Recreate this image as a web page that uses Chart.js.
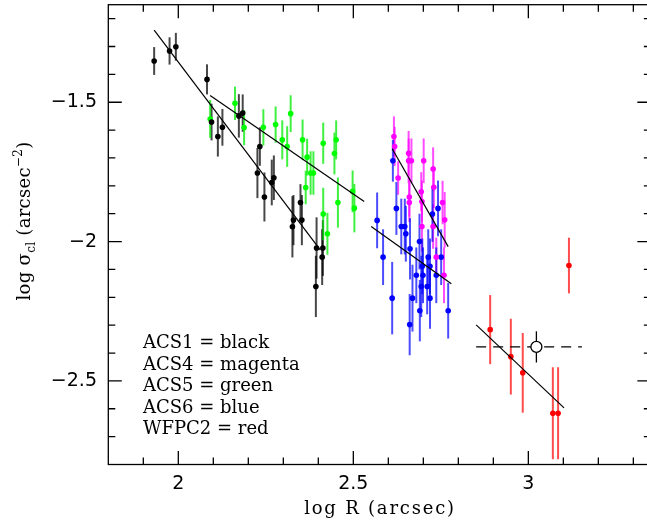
<!DOCTYPE html>
<html>
<head>
<meta charset="utf-8">
<script src="https://cdn.jsdelivr.net/npm/chart.js@4.4.1/dist/chart.umd.min.js"></script>
<style>
  html, body { margin: 0; padding: 0; background: #fff; overflow: hidden; }
  #plot { display: block; }
</style>
</head>
<body>
<canvas id="plot" width="647" height="524"></canvas>
<script>
// ACS1 (black)
const acs1X = [1.931, 1.975, 1.993, 2.082, 2.095, 2.113, 2.126, 2.173, 2.184, 2.226, 2.233, 2.246, 2.267, 2.273, 2.326, 2.329, 2.349, 2.353, 2.395, 2.413, 2.411, 2.393];
const acs1Y = [-1.352, -1.316, -1.301, -1.418, -1.571, -1.623, -1.590, -1.549, -1.539, -1.754, -1.659, -1.840, -1.788, -1.771, -1.947, -1.923, -1.860, -1.923, -2.023, -2.023, -2.056, -2.161];
const acs1Err = [0.05, 0.049, 0.05, 0.054, 0.066, 0.072, 0.066, 0.078, 0.067, 0.09, 0.069, 0.088, 0.082, 0.08, 0.11, 0.09, 0.066, 0.09, 0.11, 0.1, 0.1, 0.11];

// ACS4 (magenta)
const acs4X = [2.616, 2.618, 2.628, 2.658, 2.658, 2.666, 2.660, 2.660, 2.694, 2.696, 2.701, 2.696, 2.728, 2.730, 2.728, 2.737, 2.755, 2.761, 2.759];
const acs4Y = [-1.623, -1.659, -1.772, -1.683, -1.710, -1.710, -1.840, -1.860, -1.821, -1.856, -1.710, -1.946, -1.740, -1.805, -1.946, -2.056, -1.860, -1.922, -2.121];
const acs4Err = [0.072, 0.07, 0.06, 0.08, 0.08, 0.08, 0.07, 0.07, 0.07, 0.075, 0.08, 0.09, 0.078, 0.075, 0.08, 0.07, 0.078, 0.1, 0.1];

// ACS5 (green)
const acs5X = [2.091, 2.162, 2.188, 2.243, 2.278, 2.297, 2.311, 2.321, 2.355, 2.368, 2.364, 2.378, 2.386, 2.414, 2.446, 2.451, 2.456, 2.414, 2.426, 2.498, 2.503];
const acs5Y = [-1.560, -1.504, -1.591, -1.590, -1.580, -1.635, -1.659, -1.541, -1.635, -1.697, -1.806, -1.754, -1.754, -1.647, -1.684, -1.635, -1.860, -1.901, -1.972, -1.820, -1.880];
const acs5Err = [0.068, 0.06, 0.063, 0.065, 0.065, 0.07, 0.073, 0.066, 0.073, 0.066, 0.06, 0.078, 0.078, 0.074, 0.075, 0.07, 0.09, 0.094, 0.075, 0.075, 0.087];

// ACS6 (blue)
const acs6X = [2.613, 2.568, 2.585, 2.611, 2.623, 2.637, 2.647, 2.650, 2.662, 2.669, 2.661, 2.680, 2.689, 2.697, 2.694, 2.690, 2.699, 2.711, 2.714, 2.719, 2.719, 2.726, 2.742, 2.737, 2.751, 2.771];
const acs6Y = [-1.710, -1.924, -2.056, -2.203, -1.881, -1.946, -1.946, -1.972, -2.026, -2.203, -2.298, -2.121, -2.000, -2.089, -2.161, -2.248, -2.121, -2.161, -2.056, -2.203, -2.089, -1.901, -1.881, -2.121, -2.056, -2.248];
const acs6Err = [0.075, 0.1, 0.1, 0.13, 0.095, 0.1, 0.1, 0.1, 0.11, 0.12, 0.11, 0.1, 0.1, 0.1, 0.11, 0.11, 0.1, 0.1, 0.1, 0.11, 0.1, 0.1, 0.1, 0.1, 0.1, 0.1];

// WFPC2 (red)
const wfpcX = [2.891, 2.950, 2.984, 3.070, 3.085, 3.116];
const wfpcY = [-2.316, -2.413, -2.471, -2.616, -2.616, -2.086];
const wfpcErr = [0.124, 0.136, 0.143, 0.165, 0.165, 0.1];

// open circle with its dashed horizontal range
const ringX = [3.023];
const ringY = [-2.378];
const ringErr = [0.056];
const ringRangeX = [2.851, 3.153];

// fitted power laws, endpoints
const acs1FitX = [1.931, 2.406], acs1FitY = [-1.241, -2.031];
const acs5FitX = [2.091, 2.531], acs5FitY = [-1.476, -1.856];
const acs4FitX = [2.611, 2.771], acs4FitY = [-1.667, -2.018];
const acs6FitX = [2.551, 2.780], acs6FitY = [-1.946, -2.151];
const wfpcFitX = [2.851, 3.102], wfpcFitY = [-2.299, -2.597];

const xTicks = [2, 2.5, 3];
const yTicks = [-2.5, -2, -1.5];
const legendLines = ['ACS1 = black', 'ACS4 = magenta', 'ACS5 = green', 'ACS6 = blue', 'WFPC2 = red'];

// the box runs out to 3.35, a little past the visible edge
const xBoxMax = 3.35;

function pts(xs, ys) {
  return xs.map((x, i) => ({ x, y: ys[i] }));
}

const groups = [
  { xs: acs1X, ys: acs1Y, err: acs1Err, color: '#000000', bar: 'rgba(0,0,0,0.72)' },
  { xs: acs4X, ys: acs4Y, err: acs4Err, color: '#ff00ff', bar: 'rgba(255,0,255,0.7)' },
  { xs: acs5X, ys: acs5Y, err: acs5Err, color: '#00ff00', bar: 'rgba(0,235,0,0.75)' },
  { xs: acs6X, ys: acs6Y, err: acs6Err, color: '#0000ff', bar: 'rgba(0,0,255,0.7)' },
  { xs: wfpcX, ys: wfpcY, err: wfpcErr, color: '#ff0000', bar: 'rgba(255,0,0,0.7)' },
  { xs: ringX, ys: ringY, err: ringErr, color: '#000000', bar: '#000000', thin: true },
];

function fitLine(xs, ys, dash) {
  return {
    data: pts(xs, ys), showLine: true, pointRadius: 0,
    borderColor: '#000', borderWidth: 1.2, borderDash: dash || [],
  };
}

function dots(g) {
  return {
    data: pts(g.xs, g.ys), showLine: false, pointRadius: 2.8,
    pointBackgroundColor: g.color, pointBorderWidth: 0,
  };
}

const errorBars = {
  id: 'errorBars',
  beforeDatasetsDraw(chart) {
    const { ctx, scales: { x, y } } = chart;
    ctx.save();
    groups.forEach(g => {
      ctx.strokeStyle = g.bar;
      ctx.lineWidth = g.thin ? 1.3 : 2;
      g.xs.forEach((v, i) => {
        const px = x.getPixelForValue(v);
        ctx.beginPath();
        ctx.moveTo(px, y.getPixelForValue(g.ys[i] - g.err[i]));
        ctx.lineTo(px, y.getPixelForValue(g.ys[i] + g.err[i]));
        ctx.stroke();
      });
    });
    ctx.restore();
  }
};

// draws a row of text pieces (for sub/superscripts), centred on 0
function drawRuns(ctx, runs) {
  let w = 0;
  runs.forEach(r => {
    ctx.font = r.size + 'px "DejaVu Serif"';
    r.w = ctx.measureText(r.t).width;
    w += r.w;
  });
  let cx = -w / 2;
  runs.forEach(r => {
    ctx.font = r.size + 'px "DejaVu Serif"';
    ctx.fillText(r.t, cx, r.dy || 0);
    cx += r.w;
  });
}

const frame = {
  id: 'frame',
  afterDraw(chart) {
    const { ctx, chartArea: a, scales: { x, y } } = chart;
    const right = x.getPixelForValue(xBoxMax);
    ctx.save();
    ctx.strokeStyle = '#000';
    ctx.lineWidth = 1.3;
    ctx.strokeRect(a.left, a.top, right - a.left, a.bottom - a.top);
    ctx.beginPath();
    for (let k = 19; k <= 33; k++) {
      const px = x.getPixelForValue(k / 10);
      const len = k % 5 === 0 ? 13.5 : 7;
      ctx.moveTo(px, a.bottom); ctx.lineTo(px, a.bottom - len);
      ctx.moveTo(px, a.top); ctx.lineTo(px, a.top + len);
    }
    for (let k = -27; k <= -12; k++) {
      const py = y.getPixelForValue(k / 10);
      const len = k % 5 === 0 ? 13.5 : 7;
      ctx.moveTo(a.left, py); ctx.lineTo(a.left + len, py);
      ctx.moveTo(right, py); ctx.lineTo(right - len, py);
    }
    ctx.stroke();

    ctx.fillStyle = '#000';
    ctx.textBaseline = 'alphabetic';
    ctx.textAlign = 'left';

    // legend text
    ctx.font = '18px "DejaVu Serif"';
    legendLines.forEach((t, i) => ctx.fillText(t, 143, 348.3 + i * 21.4));

    // x title
    ctx.letterSpacing = '1.8px';
    ctx.save();
    ctx.translate(380, 514);
    drawRuns(ctx, [{ t: 'log R (arcsec)', size: 18 }]);
    ctx.restore();

    // y title
    ctx.letterSpacing = '0.3px';
    ctx.save();
    ctx.translate(30, 221);
    ctx.rotate(-Math.PI / 2);
    drawRuns(ctx, [
      { t: 'log σ', size: 18 },
      { t: 'cl', size: 12, dy: 5 },
      { t: ' (arcsec', size: 18 },
      { t: '−2', size: 12, dy: -8 },
      { t: ')', size: 18 },
    ]);
    ctx.restore();
    ctx.restore();
  }
};

const tickFont = { family: 'DejaVu Sans', size: 19 };

// no edge padding from tick labels, so the plot box keeps its size
function noEdgePad(s) {
  s.paddingTop = 0; s.paddingBottom = 0;
  s.paddingLeft = 0; s.paddingRight = 0;
}

new Chart(document.getElementById('plot'), {
  type: 'scatter',
  data: {
    datasets: [
      {
        data: pts(ringX, ringY), showLine: false, pointRadius: 5.5,
        pointBackgroundColor: '#fff', pointBorderColor: '#000', pointBorderWidth: 1.3,
      },
      fitLine(acs1FitX, acs1FitY),
      fitLine(acs5FitX, acs5FitY),
      fitLine(acs4FitX, acs4FitY),
      fitLine(acs6FitX, acs6FitY),
      fitLine(wfpcFitX, wfpcFitY),
      fitLine(ringRangeX, [ringY[0], ringY[0]], [10, 7]),
      ...groups.slice(0, 5).map(dots),
    ],
  },
  options: {
    responsive: false,
    animation: false,
    events: [],
    layout: { autoPadding: false, padding: { top: 4.7, right: 0, left: 0, bottom: 0 } },
    plugins: { legend: { display: false }, tooltip: { enabled: false } },
    scales: {
      x: {
        type: 'linear', min: 1.8, max: 3.339,
        afterBuildTicks: s => { s.ticks = xTicks.map(v => ({ value: v })); },
        afterFit: s => { s.height = 59.5; noEdgePad(s); },
        grid: { display: false, drawTicks: false },
        border: { display: false },
        ticks: { font: tickFont, color: '#000', padding: 8, maxRotation: 0, autoSkip: false, callback: v => String(v) },
      },
      y: {
        type: 'linear', min: -2.8, max: -1.15,
        afterBuildTicks: s => { s.ticks = yTicks.map(v => ({ value: v })); },
        afterFit: s => { s.width = 108.3; noEdgePad(s); },
        grid: { display: false, drawTicks: false },
        border: { display: false },
        ticks: { font: tickFont, color: '#000', padding: 11.3, autoSkip: false, callback: v => '\u2212' + Math.abs(v) },
      },
    },
  },
  plugins: [errorBars, frame],
});
</script>
</body>
</html>
